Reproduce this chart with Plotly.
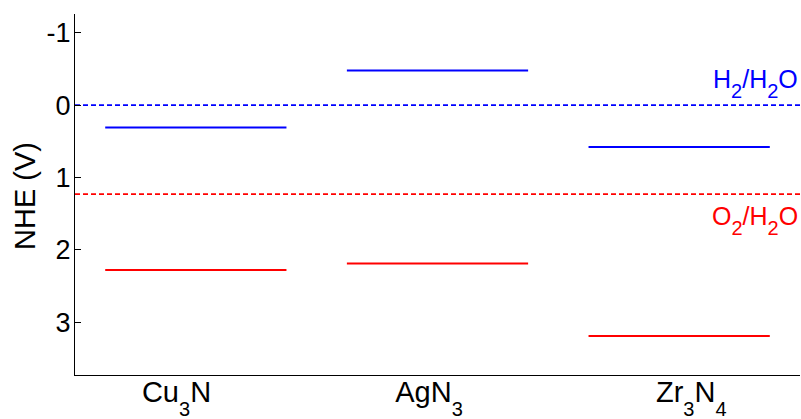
import plotly.graph_objects as go

def sub(t, size, shift):
    return f'<span style="font-size:{size}px;baseline-shift:-{shift}px">{t}</span>'

XS, XSUB, XSH = 29, 20, 14
categories = ["Cu" + sub("3", XSUB, XSH) + "N",
              "AgN" + sub("3", XSUB, XSH),
              "Zr" + sub("3", XSUB, XSH) + "N" + sub("4", XSUB, XSH)]
label_pos = [-0.08, 0.965, 2.05]
cbm = [0.31, -0.48, 0.58]   # conduction band (blue)
vbm = [2.28, 2.19, 3.19]    # valence band (red)
h2_level = 0.0
o2_level = 1.23
yticks = [-1, 0, 1, 2, 3]

half = 0.375
font = "Liberation Sans, Arial, sans-serif"

def segs(vals):
    xs, ys = [], []
    for i, v in enumerate(vals):
        xs += [i - half, i + half, None]
        ys += [v, v, None]
    return xs, ys

fig = go.Figure()
x, y = segs(cbm)
fig.add_trace(go.Scatter(x=x, y=y, mode="lines", line=dict(color="#0000ff", width=2), hoverinfo="skip"))
x, y = segs(vbm)
fig.add_trace(go.Scatter(x=x, y=y, mode="lines", line=dict(color="#ff0000", width=2), hoverinfo="skip"))
fig.add_trace(go.Scatter(x=[-0.5, 2.5], y=[h2_level, h2_level], mode="lines",
                         line=dict(color="#0000ff", width=1.6, dash="5px,3px"), hoverinfo="skip"))
fig.add_trace(go.Scatter(x=[-0.5, 2.5], y=[o2_level, o2_level], mode="lines",
                         line=dict(color="#ff0000", width=1.6, dash="5px,3px"), hoverinfo="skip"))

AS, ASUB, ASH = 25, 20, 10
fig.add_annotation(x=1, xref="paper", y=h2_level, yref="y",
                   text="H" + sub("2", ASUB, ASH) + "/H" + sub("2", ASUB, ASH) + "O",
                   xanchor="right", yanchor="bottom", showarrow=False, yshift=1, xshift=0,
                   font=dict(family=font, size=AS, color="#0000ff"))
fig.add_annotation(x=1, xref="paper", y=o2_level, yref="y",
                   text="O" + sub("2", ASUB, ASH) + "/H" + sub("2", ASUB, ASH) + "O",
                   xanchor="right", yanchor="top", showarrow=False, yshift=-6, xshift=0,
                   font=dict(family=font, size=AS, color="#ff0000"))
# y-axis title
fig.add_annotation(x=-50 / 725, xref="paper", y=(419 - 44 - 196) / 361, yref="paper",
                   text="NHE (V)", textangle=-90, showarrow=False,
                   xanchor="center", yanchor="middle",
                   font=dict(family=font, size=29, color="black"))

fig.update_layout(
    width=801, height=419,
    margin=dict(l=75, r=1, t=14, b=44, autoexpand=False),
    paper_bgcolor="white", plot_bgcolor="white",
    showlegend=False,
    font=dict(family=font, size=27, color="black"),
    xaxis=dict(range=[-0.5, 2.5], tickvals=label_pos, ticktext=categories, automargin=False,
               showgrid=False, zeroline=False, showline=True, linecolor="black", linewidth=1,
               ticks="", tickfont=dict(size=XS), ticklabelstandoff=-9),
    yaxis=dict(range=[3.73, -1.26], tickvals=yticks, ticktext=[str(t) for t in yticks], automargin=False,
               showgrid=False, zeroline=False, showline=True, linecolor="black", linewidth=1,
               ticks="inside", ticklen=6, tickcolor="black", tickfont=dict(size=27),
               ticklabelstandoff=-2),
)

fig.write_html("out.html", config={"displayModeBar": False},
               post_script="document.body.style.margin='0';document.body.style.overflow='hidden';")
